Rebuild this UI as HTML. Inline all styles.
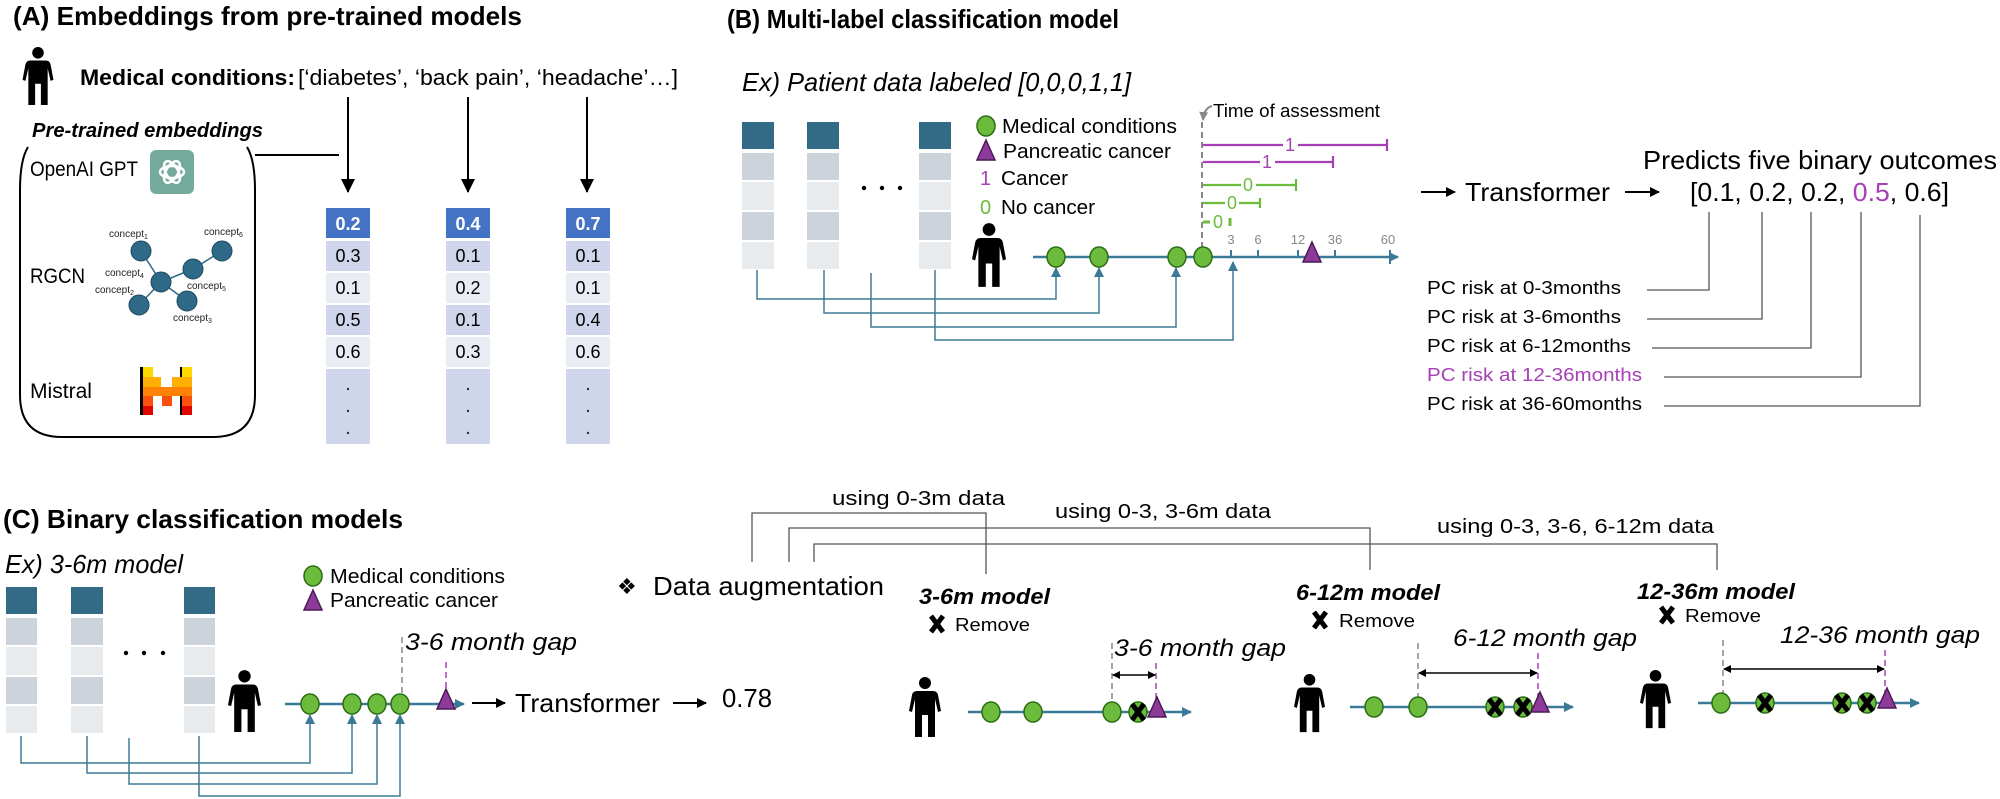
<!DOCTYPE html>
<html><head><meta charset="utf-8"><style>
html,body{margin:0;padding:0;background:#fff}
svg{display:block}
text{font-family:"Liberation Sans",sans-serif}
</style></head><body>
<svg width="2000" height="799" viewBox="0 0 2000 799" xmlns="http://www.w3.org/2000/svg">
<defs>
<symbol id="p" viewBox="0 0 32 60"><circle cx="16" cy="6" r="6" fill="#000"/><path d="M8 14H24Q28 14 29 18L32 34L29 35L26 22V60H19V38H13V60H6V22L3 35L0 34L3 18Q4 14 8 14Z" fill="#000"/></symbol>
<marker id="ab" markerWidth="10" markerHeight="10" refX="9" refY="5" orient="auto" markerUnits="userSpaceOnUse"><path d="M0 0L10 5L0 10Z" fill="#000"/></marker>
<marker id="abig" markerWidth="14" markerHeight="14" refX="13" refY="7" orient="auto" markerUnits="userSpaceOnUse"><path d="M0 0L14 7L0 14Z" fill="#000"/></marker>
<marker id="at" markerWidth="10" markerHeight="10" refX="9" refY="5" orient="auto" markerUnits="userSpaceOnUse"><path d="M0 0L10 5L0 10Z" fill="#3b7a96"/></marker>
<marker id="ag" markerWidth="9" markerHeight="9" refX="8" refY="4.5" orient="auto" markerUnits="userSpaceOnUse"><path d="M0 0L9 4.5L0 9Z" fill="#888"/></marker>
<marker id="ad" markerWidth="8" markerHeight="8" refX="7" refY="4" orient="auto-start-reverse" markerUnits="userSpaceOnUse"><path d="M0 0L8 4L0 8Z" fill="#000"/></marker>
<g id="gc"><ellipse cx="0" cy="0" rx="9" ry="10" fill="#6cbb3c" stroke="#2a6e13" stroke-width="1.5"/></g>
<g id="tr"><path d="M0 -20L9 0H-9Z" fill="#8e3a9a" stroke="#4b1a55" stroke-width="1.5"/></g>
<g id="xm"><path d="M-6 -8L6 8M6 -8L-6 8" stroke="#000" stroke-width="5"/></g>
</defs>

<!-- ===== Panel A ===== -->
<text x="13" y="25" font-size="26" font-weight="bold" textLength="509" lengthAdjust="spacingAndGlyphs">(A) Embeddings from pre-trained models</text>
<use href="#p" x="22" y="47" width="32" height="58"/>
<text x="80" y="85" font-size="22" font-weight="bold" textLength="215" lengthAdjust="spacingAndGlyphs">Medical conditions:</text>
<text x="298" y="85" font-size="22" textLength="380" lengthAdjust="spacingAndGlyphs">[‘diabetes’, ‘back pain’, ‘headache’…]</text>
<g stroke="#000" stroke-width="2">
<line x1="348" y1="97" x2="348" y2="192" marker-end="url(#abig)"/>
<line x1="468" y1="97" x2="468" y2="192" marker-end="url(#abig)"/>
<line x1="587" y1="97" x2="587" y2="192" marker-end="url(#abig)"/>
<line x1="255" y1="155" x2="339" y2="155"/>
</g>
<text x="32" y="137" font-size="20" font-weight="bold" font-style="italic" textLength="231" lengthAdjust="spacingAndGlyphs">Pre-trained embeddings</text>
<path d="M28 147Q20 160 20 190V395Q20 437 62 437H213Q255 437 255 395V190Q255 160 247 147" fill="none" stroke="#000" stroke-width="2"/>
<text x="30" y="176" font-size="21" textLength="108" lengthAdjust="spacingAndGlyphs">OpenAI GPT</text>
<rect x="150" y="150" width="44" height="44" rx="6" fill="#74aa9c"/>
<g fill="none" stroke="#fff" stroke-width="2.5" transform="translate(172 172)">
<ellipse rx="12" ry="6"/><ellipse rx="12" ry="6" transform="rotate(60)"/><ellipse rx="12" ry="6" transform="rotate(120)"/>
</g>
<text x="30" y="283" font-size="21" textLength="55" lengthAdjust="spacingAndGlyphs">RGCN</text>
<g stroke="#2e6a87" stroke-width="1.5">
<line x1="141" y1="251" x2="161" y2="282"/><line x1="161" y1="282" x2="193" y2="269"/><line x1="193" y1="269" x2="222" y2="251"/><line x1="161" y1="282" x2="139" y2="305"/><line x1="161" y1="282" x2="187" y2="301"/>
</g>
<g fill="#2e6a87" stroke="#1d4a60" stroke-width="1">
<circle cx="141" cy="251" r="10"/><circle cx="161" cy="282" r="10"/><circle cx="193" cy="269" r="10"/><circle cx="222" cy="251" r="10"/><circle cx="139" cy="305" r="10"/><circle cx="187" cy="301" r="10"/>
</g>
<g font-size="10" fill="#222">
<text x="109" y="237">concept<tspan font-size="7" dy="2">1</tspan></text>
<text x="204" y="235">concept<tspan font-size="7" dy="2">6</tspan></text>
<text x="105" y="276">concept<tspan font-size="7" dy="2">4</tspan></text>
<text x="95" y="293">concept<tspan font-size="7" dy="2">2</tspan></text>
<text x="187" y="289">concept<tspan font-size="7" dy="2">5</tspan></text>
<text x="173" y="321">concept<tspan font-size="7" dy="2">3</tspan></text>
</g>
<text x="30" y="398" font-size="21" textLength="62" lengthAdjust="spacingAndGlyphs">Mistral</text>
<g>
<rect x="140" y="367" width="13" height="48" fill="#000"/>
<rect x="180" y="367" width="12" height="48" fill="#000"/>
<rect x="143" y="367" width="10" height="10" fill="#ffd800"/><rect x="182" y="367" width="10" height="10" fill="#ffd800"/>
<rect x="143" y="377" width="18" height="10" fill="#ffaf00"/><rect x="172" y="377" width="20" height="10" fill="#ffaf00"/>
<rect x="143" y="387" width="49" height="9" fill="#ff8205"/>
<rect x="143" y="396" width="10" height="10" fill="#fa500f"/><rect x="162" y="396" width="10" height="10" fill="#fa500f"/><rect x="182" y="396" width="10" height="10" fill="#fa500f"/>
<rect x="143" y="406" width="10" height="9" fill="#e10500"/><rect x="182" y="406" width="10" height="9" fill="#e10500"/>
</g>
<!-- embedding columns -->
<g font-size="18" text-anchor="middle">
<g>
<rect x="326" y="208" width="44" height="30" fill="#4472c4"/><text x="348" y="230" fill="#fff" font-weight="bold">0.2</text>
<rect x="326" y="241" width="44" height="30" fill="#cfd5ea"/><text x="348" y="262">0.3</text>
<rect x="326" y="273" width="44" height="30" fill="#e9ebf5"/><text x="348" y="294">0.1</text>
<rect x="326" y="305" width="44" height="30" fill="#cfd5ea"/><text x="348" y="326">0.5</text>
<rect x="326" y="337" width="44" height="30" fill="#e9ebf5"/><text x="348" y="358">0.6</text>
<rect x="326" y="369" width="44" height="75" fill="#cfd5ea"/>
</g>
<g>
<rect x="446" y="208" width="44" height="30" fill="#4472c4"/><text x="468" y="230" fill="#fff" font-weight="bold">0.4</text>
<rect x="446" y="241" width="44" height="30" fill="#cfd5ea"/><text x="468" y="262">0.1</text>
<rect x="446" y="273" width="44" height="30" fill="#e9ebf5"/><text x="468" y="294">0.2</text>
<rect x="446" y="305" width="44" height="30" fill="#cfd5ea"/><text x="468" y="326">0.1</text>
<rect x="446" y="337" width="44" height="30" fill="#e9ebf5"/><text x="468" y="358">0.3</text>
<rect x="446" y="369" width="44" height="75" fill="#cfd5ea"/>
</g>
<g>
<rect x="566" y="208" width="44" height="30" fill="#4472c4"/><text x="588" y="230" fill="#fff" font-weight="bold">0.7</text>
<rect x="566" y="241" width="44" height="30" fill="#cfd5ea"/><text x="588" y="262">0.1</text>
<rect x="566" y="273" width="44" height="30" fill="#e9ebf5"/><text x="588" y="294">0.1</text>
<rect x="566" y="305" width="44" height="30" fill="#cfd5ea"/><text x="588" y="326">0.4</text>
<rect x="566" y="337" width="44" height="30" fill="#e9ebf5"/><text x="588" y="358">0.6</text>
<rect x="566" y="369" width="44" height="75" fill="#cfd5ea"/>
</g>
</g>
<g fill="#333"><circle cx="348" cy="389" r="1.2"/><circle cx="348" cy="411" r="1.2"/><circle cx="348" cy="433" r="1.2"/><circle cx="468" cy="389" r="1.2"/><circle cx="468" cy="411" r="1.2"/><circle cx="468" cy="433" r="1.2"/><circle cx="588" cy="389" r="1.2"/><circle cx="588" cy="411" r="1.2"/><circle cx="588" cy="433" r="1.2"/></g>

<!-- ===== Panel B ===== -->
<text x="727" y="28" font-size="26" font-weight="bold" textLength="392" lengthAdjust="spacingAndGlyphs">(B) Multi-label classification model</text>
<text x="742" y="91" font-size="26" font-style="italic" textLength="389" lengthAdjust="spacingAndGlyphs">Ex) Patient data labeled [0,0,0,1,1]</text>
<g>
<rect x="742" y="122" width="32" height="27" fill="#336b87"/><rect x="742" y="153" width="32" height="27" fill="#cdd3db"/><rect x="742" y="182" width="32" height="28" fill="#e8ebee"/><rect x="742" y="212" width="32" height="28" fill="#cdd3db"/><rect x="742" y="242" width="32" height="27" fill="#e8ebee"/>
<rect x="807" y="122" width="32" height="27" fill="#336b87"/><rect x="807" y="153" width="32" height="27" fill="#cdd3db"/><rect x="807" y="182" width="32" height="28" fill="#e8ebee"/><rect x="807" y="212" width="32" height="28" fill="#cdd3db"/><rect x="807" y="242" width="32" height="27" fill="#e8ebee"/>
<rect x="919" y="122" width="32" height="27" fill="#336b87"/><rect x="919" y="153" width="32" height="27" fill="#cdd3db"/><rect x="919" y="182" width="32" height="28" fill="#e8ebee"/><rect x="919" y="212" width="32" height="28" fill="#cdd3db"/><rect x="919" y="242" width="32" height="27" fill="#e8ebee"/>
</g>
<g fill="#000"><circle cx="864" cy="188" r="2.2"/><circle cx="882" cy="188" r="2.2"/><circle cx="900" cy="188" r="2.2"/></g>
<use href="#gc" x="986" y="126"/>
<use href="#tr" x="986" y="160"/>
<g font-size="20">
<text x="1002" y="133" textLength="175" lengthAdjust="spacingAndGlyphs">Medical conditions</text>
<text x="1003" y="158" textLength="168" lengthAdjust="spacingAndGlyphs">Pancreatic cancer</text>
<text x="980" y="185" fill="#a640b5">1</text><text x="1001" y="185" textLength="67" lengthAdjust="spacingAndGlyphs">Cancer</text>
<text x="980" y="214" fill="#6cbb3c">0</text><text x="1001" y="214" textLength="94" lengthAdjust="spacingAndGlyphs">No cancer</text>
</g>
<use href="#p" x="972" y="223" width="34" height="64"/>
<!-- timeline B -->
<line x1="1033" y1="257" x2="1398" y2="257" stroke="#3b7a96" stroke-width="2.5" marker-end="url(#at)"/>
<line x1="1390" y1="250" x2="1390" y2="264" stroke="#3b7a96" stroke-width="2"/>
<g stroke="#3b7a96" stroke-width="2"><line x1="1231" y1="250" x2="1231" y2="257"/><line x1="1258" y1="250" x2="1258" y2="257"/><line x1="1298" y1="250" x2="1298" y2="257"/><line x1="1335" y1="250" x2="1335" y2="257"/></g>
<g font-size="13" fill="#888" text-anchor="middle"><text x="1231" y="244">3</text><text x="1258" y="244">6</text><text x="1298" y="244">12</text><text x="1335" y="244">36</text><text x="1388" y="244">60</text></g>
<line x1="1202" y1="122" x2="1202" y2="257" stroke="#888" stroke-width="2" stroke-dasharray="6,4"/>
<path d="M1212 106Q1204 108 1203 120" fill="none" stroke="#888" stroke-width="2" marker-end="url(#ag)"/>
<text x="1213" y="117" font-size="18" textLength="167" lengthAdjust="spacingAndGlyphs">Time of assessment</text>
<g stroke-width="2.2" fill="none">
<path d="M1203 145H1283M1298 145H1387M1387 139V151" stroke="#a640b5"/>
<path d="M1203 162H1260M1275 162H1333M1333 156V168" stroke="#a640b5"/>
<path d="M1203 185H1241M1256 185H1296M1296 179V191" stroke="#6cbb3c"/>
<path d="M1203 203H1225M1239 203H1260M1260 198V208" stroke="#6cbb3c"/>
<path d="M1203 222H1210M1230 218V226" stroke="#6cbb3c" stroke-width="3"/>
</g>
<g font-size="18" text-anchor="middle">
<text x="1290" y="151" fill="#a640b5">1</text><text x="1267" y="168" fill="#a640b5">1</text>
<text x="1248" y="191" fill="#6cbb3c">0</text><text x="1232" y="209" fill="#6cbb3c">0</text><text x="1218" y="228" fill="#6cbb3c">0</text>
</g>
<!-- connectors B -->
<g fill="none" stroke="#3d7a96" stroke-width="1.5">
<path d="M757 270V299H1056V268" marker-end="url(#at)"/>
<path d="M824 270V313H1099V268" marker-end="url(#at)"/>
<path d="M871 273V327H1176V268" marker-end="url(#at)"/>
<path d="M935 270V340H1233V262" marker-end="url(#at)"/>
</g>
<use href="#gc" x="1056" y="257"/><use href="#gc" x="1099" y="257"/><use href="#gc" x="1177" y="257"/><use href="#gc" x="1203" y="257"/>
<use href="#tr" x="1312" y="262"/>
<!-- transformer B -->
<line x1="1421" y1="192" x2="1455" y2="192" stroke="#000" stroke-width="2" marker-end="url(#ab)"/>
<text x="1465" y="201" font-size="26" textLength="145" lengthAdjust="spacingAndGlyphs">Transformer</text>
<line x1="1625" y1="192" x2="1659" y2="192" stroke="#000" stroke-width="2" marker-end="url(#ab)"/>
<text x="1643" y="169" font-size="26" textLength="354" lengthAdjust="spacingAndGlyphs">Predicts five binary outcomes</text>
<text x="1690" y="201" font-size="26" textLength="259" lengthAdjust="spacingAndGlyphs">[0.1, 0.2, 0.2, <tspan fill="#a640b5">0.5</tspan>, 0.6]</text>
<g font-size="18">
<text x="1427" y="294" textLength="194" lengthAdjust="spacingAndGlyphs">PC risk at 0-3months</text>
<text x="1427" y="323" textLength="194" lengthAdjust="spacingAndGlyphs">PC risk at 3-6months</text>
<text x="1427" y="352" textLength="204" lengthAdjust="spacingAndGlyphs">PC risk at 6-12months</text>
<text x="1427" y="381" textLength="215" lengthAdjust="spacingAndGlyphs" fill="#a640b5">PC risk at 12-36months</text>
<text x="1427" y="410" textLength="215" lengthAdjust="spacingAndGlyphs">PC risk at 36-60months</text>
</g>
<g fill="none" stroke="#555" stroke-width="1.3">
<path d="M1647 290H1709V212"/><path d="M1647 319H1762V212"/><path d="M1652 348H1811V212"/><path d="M1664 377H1861V212"/><path d="M1664 406H1920V215"/>
</g>

<!-- ===== Panel C ===== -->
<text x="3" y="528" font-size="26" font-weight="bold" textLength="400" lengthAdjust="spacingAndGlyphs">(C) Binary classification models</text>
<text x="5" y="573" font-size="26" font-style="italic" textLength="178" lengthAdjust="spacingAndGlyphs">Ex) 3-6m model</text>
<g>
<rect x="6" y="587" width="31" height="27" fill="#336b87"/><rect x="6" y="618" width="31" height="27" fill="#cdd3db"/><rect x="6" y="647" width="31" height="28" fill="#e8ebee"/><rect x="6" y="677" width="31" height="27" fill="#cdd3db"/><rect x="6" y="706" width="31" height="27" fill="#e8ebee"/>
<rect x="71" y="587" width="32" height="27" fill="#336b87"/><rect x="71" y="618" width="32" height="27" fill="#cdd3db"/><rect x="71" y="647" width="32" height="28" fill="#e8ebee"/><rect x="71" y="677" width="32" height="27" fill="#cdd3db"/><rect x="71" y="706" width="32" height="27" fill="#e8ebee"/>
<rect x="184" y="587" width="31" height="27" fill="#336b87"/><rect x="184" y="618" width="31" height="27" fill="#cdd3db"/><rect x="184" y="647" width="31" height="28" fill="#e8ebee"/><rect x="184" y="677" width="31" height="27" fill="#cdd3db"/><rect x="184" y="706" width="31" height="27" fill="#e8ebee"/>
</g>
<g fill="#000"><circle cx="126" cy="653" r="2.2"/><circle cx="144" cy="653" r="2.2"/><circle cx="163" cy="653" r="2.2"/></g>
<use href="#p" x="228" y="670" width="33" height="62"/>
<use href="#gc" x="313" y="576"/><use href="#tr" x="313" y="610"/>
<text x="330" y="583" font-size="20" textLength="175" lengthAdjust="spacingAndGlyphs">Medical conditions</text>
<text x="330" y="607" font-size="20" textLength="168" lengthAdjust="spacingAndGlyphs">Pancreatic cancer</text>
<line x1="285" y1="704" x2="464" y2="704" stroke="#3b7a96" stroke-width="2.5" marker-end="url(#at)"/>
<line x1="402" y1="637" x2="402" y2="704" stroke="#888" stroke-width="1.5" stroke-dasharray="6,4"/>
<line x1="446" y1="662" x2="446" y2="704" stroke="#a640b5" stroke-width="1.5" stroke-dasharray="6,4"/>
<text x="405" y="650" font-size="24" font-style="italic" textLength="172" lengthAdjust="spacingAndGlyphs">3-6 month gap</text>
<g fill="none" stroke="#3d7a96" stroke-width="1.5">
<path d="M21 736V763H310V715" marker-end="url(#at)"/>
<path d="M87 736V773H352V715" marker-end="url(#at)"/>
<path d="M129 738V784H377V715" marker-end="url(#at)"/>
<path d="M199 736V796H400V715" marker-end="url(#at)"/>
</g>
<use href="#gc" x="310" y="704"/><use href="#gc" x="352" y="704"/><use href="#gc" x="377" y="704"/><use href="#gc" x="400" y="704"/>
<use href="#tr" x="446" y="709"/>
<line x1="472" y1="703" x2="505" y2="703" stroke="#000" stroke-width="2" marker-end="url(#ab)"/>
<text x="515" y="712" font-size="26" textLength="145" lengthAdjust="spacingAndGlyphs">Transformer</text>
<line x1="673" y1="703" x2="706" y2="703" stroke="#000" stroke-width="2" marker-end="url(#ab)"/>
<text x="722" y="707" font-size="26" textLength="50" lengthAdjust="spacingAndGlyphs">0.78</text>

<!-- Data augmentation -->
<text x="617" y="594" font-size="22">❖</text>
<text x="653" y="595" font-size="26" textLength="231" lengthAdjust="spacingAndGlyphs">Data augmentation</text>
<g fill="none" stroke="#555" stroke-width="1.3">
<path d="M752 562V513H986V574"/>
<path d="M789 562V528H1370V570"/>
<path d="M814 562V544H1717V570"/>
</g>
<g font-size="20">
<text x="832" y="505" textLength="173" lengthAdjust="spacingAndGlyphs">using 0-3m data</text>
<text x="1055" y="518" textLength="216" lengthAdjust="spacingAndGlyphs">using 0-3, 3-6m data</text>
<text x="1437" y="533" textLength="277" lengthAdjust="spacingAndGlyphs">using 0-3, 3-6, 6-12m data</text>
</g>
<!-- model 1 -->
<text x="919" y="604" font-size="22" font-weight="bold" font-style="italic" textLength="131" lengthAdjust="spacingAndGlyphs">3-6m model</text>
<use href="#xm" x="937" y="624"/>
<text x="955" y="631" font-size="18" textLength="75" lengthAdjust="spacingAndGlyphs">Remove</text>
<use href="#p" x="909" y="677" width="32" height="60"/>
<line x1="968" y1="712" x2="1191" y2="712" stroke="#3b7a96" stroke-width="2.5" marker-end="url(#at)"/>
<line x1="1112" y1="643" x2="1112" y2="712" stroke="#888" stroke-width="1.5" stroke-dasharray="6,4"/>
<line x1="1156" y1="663" x2="1156" y2="712" stroke="#a640b5" stroke-width="1.5" stroke-dasharray="6,4"/>
<line x1="1113" y1="675" x2="1155" y2="675" stroke="#000" stroke-width="1.5" marker-start="url(#ad)" marker-end="url(#ad)"/>
<text x="1114" y="656" font-size="24" font-style="italic" textLength="172" lengthAdjust="spacingAndGlyphs">3-6 month gap</text>
<use href="#gc" x="991" y="712"/><use href="#gc" x="1033" y="712"/><use href="#gc" x="1112" y="712"/><use href="#gc" x="1138" y="712"/>
<use href="#xm" x="1138" y="712"/><use href="#tr" x="1157" y="717"/>
<!-- model 2 -->
<text x="1296" y="600" font-size="22" font-weight="bold" font-style="italic" textLength="144" lengthAdjust="spacingAndGlyphs">6-12m model</text>
<use href="#xm" x="1320" y="620"/>
<text x="1339" y="627" font-size="18" textLength="76" lengthAdjust="spacingAndGlyphs">Remove</text>
<use href="#p" x="1294" y="673" width="31" height="60"/>
<line x1="1350" y1="707" x2="1573" y2="707" stroke="#3b7a96" stroke-width="2.5" marker-end="url(#at)"/>
<line x1="1418" y1="643" x2="1418" y2="707" stroke="#888" stroke-width="1.5" stroke-dasharray="6,4"/>
<line x1="1538" y1="653" x2="1538" y2="707" stroke="#a640b5" stroke-width="1.5" stroke-dasharray="6,4"/>
<line x1="1419" y1="673" x2="1537" y2="673" stroke="#000" stroke-width="1.5" marker-start="url(#ad)" marker-end="url(#ad)"/>
<text x="1453" y="646" font-size="24" font-style="italic" textLength="184" lengthAdjust="spacingAndGlyphs">6-12 month gap</text>
<use href="#gc" x="1374" y="707"/><use href="#gc" x="1418" y="707"/><use href="#gc" x="1495" y="707"/><use href="#gc" x="1523" y="707"/>
<use href="#xm" x="1495" y="707"/><use href="#xm" x="1523" y="707"/><use href="#tr" x="1540" y="712"/>
<!-- model 3 -->
<text x="1637" y="599" font-size="22" font-weight="bold" font-style="italic" textLength="158" lengthAdjust="spacingAndGlyphs">12-36m model</text>
<use href="#xm" x="1667" y="615"/>
<text x="1685" y="622" font-size="18" textLength="76" lengthAdjust="spacingAndGlyphs">Remove</text>
<use href="#p" x="1640" y="668" width="31" height="62"/>
<line x1="1698" y1="703" x2="1919" y2="703" stroke="#3b7a96" stroke-width="2.5" marker-end="url(#at)"/>
<line x1="1723" y1="640" x2="1723" y2="703" stroke="#888" stroke-width="1.5" stroke-dasharray="6,4"/>
<line x1="1885" y1="650" x2="1885" y2="703" stroke="#a640b5" stroke-width="1.5" stroke-dasharray="6,4"/>
<line x1="1724" y1="669" x2="1884" y2="669" stroke="#000" stroke-width="1.5" marker-start="url(#ad)" marker-end="url(#ad)"/>
<text x="1780" y="643" font-size="24" font-style="italic" textLength="200" lengthAdjust="spacingAndGlyphs">12-36 month gap</text>
<use href="#gc" x="1721" y="703"/><use href="#gc" x="1765" y="703"/><use href="#gc" x="1842" y="703"/><use href="#gc" x="1867" y="703"/>
<use href="#xm" x="1765" y="703"/><use href="#xm" x="1842" y="703"/><use href="#xm" x="1867" y="703"/><use href="#tr" x="1887" y="708"/>
</svg>
</body></html>
